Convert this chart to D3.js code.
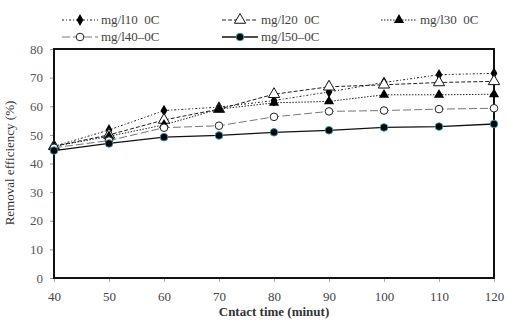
<!DOCTYPE html>
<html><head><meta charset="utf-8">
<script src="https://cdn.jsdelivr.net/npm/d3@7"></script>
<style>body{margin:0;background:#fff}svg{display:block}svg text{font-family:"Liberation Serif","DejaVu Serif","Times New Roman",serif}</style>
</head><body><svg id="c" width="507" height="324"></svg>
<script>
const times = [40, 50, 60, 70, 80, 90, 100, 110, 120];
const s10 = [46, 51.7, 58.5, 59.7, 62, 65, 68.3, 71, 71.5];
const s20 = [46, 50, 55.2, 59, 64.2, 66.8, 67.5, 68.3, 68.7];
const s30 = [46, 49.5, 53.5, 59, 61.2, 61.7, 64, 64, 64.2];
const s40 = [45.5, 48, 52.5, 53.2, 56.3, 58.2, 58.5, 59, 59.3];
const s50 = [44.5, 47, 49.2, 49.8, 50.9, 51.6, 52.6, 52.9, 53.8];
const seriesNames = ["mg/l10  0C", "mg/l20  0C", "mg/l30  0C", "mg/l40\u20130C", "mg/l50\u20130C"];
const xTicks = [40, 50, 60, 70, 80, 90, 100, 110, 120];
const yTicks = [0, 10, 20, 30, 40, 50, 60, 70, 80];

const series = [
  {name: seriesNames[0], vals: s10, dash: "2,2,1,2", color: "#222", width: 1, marker: "diamond"},
  {name: seriesNames[1], vals: s20, dash: "4,2", color: "#222", width: 1, marker: "otri"},
  {name: seriesNames[2], vals: s30, dash: "1.5,1.5", color: "#222", width: 1, marker: "tri"},
  {name: seriesNames[3], vals: s40, dash: "8,3", color: "#777", width: 1, marker: "ocirc"},
  {name: seriesNames[4], vals: s50, dash: null, color: "#111", width: 1.3, marker: "dot"}
];

const svg = d3.select("#c");
const x = d3.scaleLinear().domain([40, 120]).range([54, 494]);
const y = d3.scaleLinear().domain([0, 80]).range([278, 49]);

// axes
const xa = svg.append("g").attr("transform", "translate(0,278)")
  .call(d3.axisBottom(x).tickValues(xTicks).tickSize(4).tickPadding(10));
xa.select(".domain").remove();
xa.selectAll("line").attr("stroke", "#aaa");
xa.selectAll("text").attr("font-size", 13).attr("fill", "#444");

const ya = svg.append("g").attr("transform", "translate(54,0)")
  .call(d3.axisLeft(y).tickValues(yTicks).tickSize(4).tickPadding(7));
ya.select(".domain").remove();
ya.selectAll("line").attr("stroke", "#999");
ya.selectAll("text").attr("font-size", 13).attr("fill", "#555");

// frame
svg.append("rect").attr("x", 54).attr("y", 49).attr("width", 440).attr("height", 229)
  .attr("fill", "none").attr("stroke", "#111").attr("stroke-width", 2);

function marker(g, type, cx, cy) {
  if (type === "diamond") {
    g.append("path").attr("d", d3.symbol(d3.symbolDiamond, 40)()).attr("transform", `translate(${cx},${cy})`).attr("fill", "#000");
  } else if (type === "otri") {
    g.append("path").attr("d", d3.symbol(d3.symbolTriangle, 55)()).attr("transform", `translate(${cx},${cy})`).attr("fill", "#fff").attr("stroke", "#111").attr("stroke-width", 1);
  } else if (type === "tri") {
    g.append("path").attr("d", d3.symbol(d3.symbolTriangle, 45)()).attr("transform", `translate(${cx},${cy})`).attr("fill", "#000");
  } else if (type === "ocirc") {
    g.append("circle").attr("cx", cx).attr("cy", cy).attr("r", 3.8).attr("fill", "#fff").attr("stroke", "#222").attr("stroke-width", 1);
  } else {
    g.append("circle").attr("cx", cx).attr("cy", cy).attr("r", 3.8).attr("fill", "#000").attr("stroke", "#2a9fc0").attr("stroke-width", 0.9);
  }
}

const line = d3.line().x((d, i) => x(times[i])).y(d => y(d));
series.forEach(s => {
  const g = svg.append("g");
  g.append("path").attr("d", line(s.vals)).attr("fill", "none").attr("stroke", s.color)
    .attr("stroke-width", s.width).attr("stroke-dasharray", s.dash);
  s.vals.forEach((v, i) => marker(g, s.marker, x(times[i]), y(v)));
});

// legend
const legPos = [[62, 20], [222, 20], [381, 20], [62, 37], [222, 37]];
series.forEach((s, i) => {
  const [lx, ly] = legPos[i];
  const g = svg.append("g");
  g.append("line").attr("x1", lx).attr("x2", lx + 36).attr("y1", ly).attr("y2", ly)
    .attr("stroke", s.color).attr("stroke-width", s.width).attr("stroke-dasharray", s.dash);
  marker(g, s.marker, lx + 18, ly);
  g.append("text").attr("x", lx + 39).attr("y", ly + 4).text(s.name)
    .attr("font-size", 13).attr("fill", "#444").style("white-space", "pre");
});

// axis titles
svg.append("text").attr("x", 274).attr("y", 316).attr("text-anchor", "middle")
  .attr("font-size", 13).attr("font-weight", "bold").attr("fill", "#333")
  .text("Cntact time (minut)");
svg.append("text").attr("transform", "translate(14,163) rotate(-90)").attr("text-anchor", "middle")
  .attr("font-size", 13).attr("fill", "#333")
  .text("Removal efficiency (%)");
</script></body></html>
